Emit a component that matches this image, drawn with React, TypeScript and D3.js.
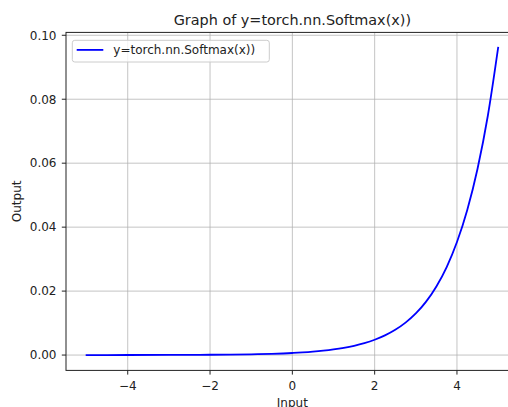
import React from "react";
import * as d3 from "d3";

// values (softmax over 100 points in [-5, 5])
const xs = [-5, -4, -3, -2, -1.5, -1, -0.5, 0, 0.25, 0.5, 0.75, 1, 1.25, 1.5, 1.75, 2, 2.25, 2.5, 2.75, 3, 3.25, 3.5, 3.75, 4, 4.25, 4.5, 4.75, 5];
const ys = [0.0000044, 0.0000118, 0.0000322, 0.0000876, 0.000144, 0.000238, 0.000393, 0.000647, 0.000831, 0.001067, 0.00137, 0.00176, 0.00226, 0.002901, 0.003725, 0.004784, 0.006142, 0.007887, 0.01013, 0.013, 0.0167, 0.02144, 0.02753, 0.03535, 0.04539, 0.05828, 0.07483, 0.09608];

const xTickVals = [-4, -2, 0, 2, 4];
const yTickVals = [0, 0.02, 0.04, 0.06, 0.08, 0.1];
const title = "Graph of y=torch.nn.Softmax(x))";
const seriesName = "y=torch.nn.Softmax(x))";
const xLabel = "Input";
const yLabel = "Output";

const width = 508, height = 407;
const left = 66, right = 518.7, top = 32.4, bottom = 370.4;
const font = "DejaVu Sans, sans-serif";

const App = () => {
  const data = xs.map((x, i) => ({ x, y: ys[i] }));

  const x = d3.scaleLinear().domain([-5.5, 5.5]).range([left, right]);
  const y = d3.scaleLinear().domain([-0.0048, 0.1009]).range([bottom, top]);

  const line = d3.line<{ x: number; y: number }>()
    .x(d => x(d.x))
    .y(d => y(d.y))
    .curve(d3.curveMonotoneX);

  const xTicks = xTickVals.map(d => (
    <g key={"x" + d} transform={`translate(${x(d)},0)`}>
      <line y1={top} y2={bottom} stroke="#b0b0b0" strokeOpacity={0.75} strokeWidth={1} />
      <line y1={bottom} y2={bottom + 4.2} stroke="#222" strokeWidth={1} />
      <text y={389.6} textAnchor="middle" fontSize={12}>{d < 0 ? "\u2212" + Math.abs(d) : d}</text>
    </g>
  ));

  const yTicks = yTickVals.map(d => (
    <g key={"y" + d} transform={`translate(0,${y(d)})`}>
      <line x1={left} x2={right} stroke="#b0b0b0" strokeOpacity={0.75} strokeWidth={1} />
      <line x1={left - 4.2} x2={left} stroke="#222" strokeWidth={1} />
      <text x={left - 9.5} y={4.3} textAnchor="end" fontSize={12}>{d.toFixed(2)}</text>
    </g>
  ));

  return (
    <svg width={width} height={height} style={{ position: "absolute", left: 0, top: 0 }} fontFamily={font} fill="#222">
      <rect width={width} height={height} fill="#fff" />
      {xTicks}
      {yTicks}
      <path d={line(data) || ""} fill="none" stroke="#0000ff" strokeWidth={1.8} strokeLinejoin="round" strokeLinecap="square" />
      <rect x={left} y={top} width={right - left} height={bottom - top} fill="none" stroke="#222" strokeWidth={1} />
      <text x={(left + right) / 2} y={24.5} textAnchor="middle" fontSize={14.4}>{title}</text>
      <text x={(left + right) / 2} y={406.5} textAnchor="middle" fontSize={12}>{xLabel}</text>
      <text transform={`translate(21,${(top + bottom) / 2}) rotate(-90)`} textAnchor="middle" fontSize={12}>{yLabel}</text>
      <g>
        <rect x={72.3} y={40.3} width={197} height={21.7} rx={2.5} fill="#fff" fillOpacity={0.8} stroke="#cccccc" strokeWidth={1} />
        <line x1={76.7} x2={103.3} y1={49.9} y2={49.9} stroke="#0000ff" strokeWidth={1.8} />
        <text x={113.3} y={54.2} fontSize={12}>{seriesName}</text>
      </g>
    </svg>
  );
};

export default App;
